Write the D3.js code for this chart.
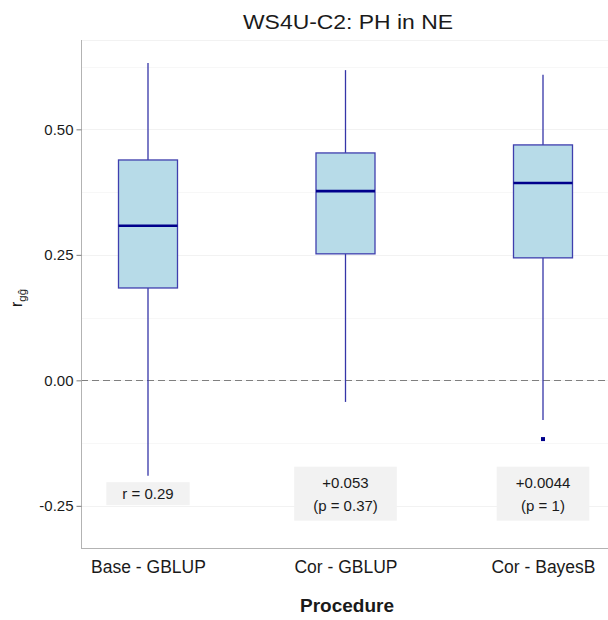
<!DOCTYPE html>
<html>
<head>
<meta charset="utf-8">
<script src="https://cdn.jsdelivr.net/npm/d3@7"></script>
<style>
  html, body { margin: 0; padding: 0; background: #fff; }
  svg { display: block; font-family: "Liberation Sans", Arial, sans-serif; }
</style>
</head>
<body>
<svg id="chart" width="608" height="620"></svg>
<script>
// Box-plot summaries of r(g, ĝ) per procedure
const procedures = ["Base - GBLUP", "Cor - GBLUP", "Cor - BayesB"];
const whiskerLow  = [-0.190, -0.043, -0.079];
const q1          = [ 0.184,  0.252,  0.244];
const medians     = [ 0.308,  0.377,  0.393];
const q3          = [ 0.439,  0.453,  0.469];
const whiskerHigh = [ 0.632,  0.618,  0.609];
const outliers    = [[], [], [-0.117]];

// Annotation text under each box
const annotations = [["r = 0.29"], ["+0.053", "(p = 0.37)"], ["+0.0044", "(p = 1)"]];
const annotationY = -0.226;

const majorTicks = [-0.25, 0.00, 0.25, 0.50];
const minorTicks = [-0.125, 0.125, 0.375, 0.625];
const tickLabels = ["-0.25", "0.00", "0.25", "0.50"];

const svg = d3.select("#chart");
const panel = { left: 81, right: 608, top: 40, bottom: 548 };

const x = d3.scalePoint().domain(procedures).range([148, 543]);
const y = d3.scaleLinear().domain([-0.334, 0.678]).range([panel.bottom, panel.top]);
const boxW = 59;

// Grid lines
const grid = svg.append("g");
grid.selectAll("line.minor").data(minorTicks).join("line")
  .attr("x1", panel.left).attr("x2", panel.right)
  .attr("y1", d => Math.round(y(d)) + 0.5).attr("y2", d => Math.round(y(d)) + 0.5)
  .attr("stroke", "#f7f7f7").attr("stroke-width", 1);
grid.selectAll("line.major").data(majorTicks).join("line")
  .attr("x1", panel.left).attr("x2", panel.right)
  .attr("y1", d => Math.round(y(d)) + 0.5).attr("y2", d => Math.round(y(d)) + 0.5)
  .attr("stroke", "#f2f2f2").attr("stroke-width", 1);
grid.append("line")
  .attr("x1", panel.left).attr("x2", panel.right)
  .attr("y1", panel.top + 0.5).attr("y2", panel.top + 0.5)
  .attr("stroke", "#f2f2f2");

// Reference line at zero
svg.append("line")
  .attr("x1", panel.left).attr("x2", panel.right)
  .attr("y1", Math.round(y(0)) + 0.5).attr("y2", Math.round(y(0)) + 0.5)
  .attr("stroke", "#7f7f7f").attr("stroke-width", 1.1)
  .attr("stroke-dasharray", "7,4");

// Axes
const yAxis = d3.axisLeft(y).tickValues(majorTicks)
  .tickFormat((d, i) => tickLabels[i]).tickSize(5).tickPadding(3);
const gy = svg.append("g").attr("transform", `translate(${panel.left + 0.5},0)`).call(yAxis);
gy.select(".domain").attr("d", `M0,${panel.top}V${panel.bottom}`).attr("stroke", "#b3b3b3");
gy.selectAll(".tick line").attr("stroke", "#7f7f7f");
gy.selectAll(".tick text").attr("font-size", 15).attr("fill", "#1a1a1a")
  .attr("font-family", "Liberation Sans, Arial, sans-serif");

const xAxis = d3.axisBottom(x).tickSize(0).tickPadding(12);
const gx = svg.append("g").attr("transform", `translate(0,${panel.bottom + 0.5})`).call(xAxis);
gx.select(".domain").attr("d", `M${panel.left},0H${panel.right}`).attr("stroke", "#b3b3b3");
gx.selectAll(".tick text").attr("font-size", 17.5).attr("fill", "#1a1a1a")
  .attr("font-family", "Liberation Sans, Arial, sans-serif");

// Boxes
const boxes = svg.append("g");
procedures.forEach((p, i) => {
  const cx = x(p);
  const g = boxes.append("g");
  g.append("line")
    .attr("x1", cx).attr("x2", cx)
    .attr("y1", y(whiskerHigh[i])).attr("y2", y(q3[i]))
    .attr("stroke", "#3535a8").attr("stroke-width", 1.3);
  g.append("line")
    .attr("x1", cx).attr("x2", cx)
    .attr("y1", y(q1[i])).attr("y2", y(whiskerLow[i]))
    .attr("stroke", "#3535a8").attr("stroke-width", 1.3);
  g.append("rect")
    .attr("x", cx - boxW / 2).attr("y", y(q3[i]))
    .attr("width", boxW).attr("height", y(q1[i]) - y(q3[i]))
    .attr("fill", "#b7dbe8").attr("stroke", "#3f3fae").attr("stroke-width", 1.3);
  g.append("line")
    .attr("x1", cx - boxW / 2).attr("x2", cx + boxW / 2)
    .attr("y1", y(medians[i])).attr("y2", y(medians[i]))
    .attr("stroke", "#00008b").attr("stroke-width", 2.6);
  outliers[i].forEach(v => {
    g.append("rect")
      .attr("x", cx - 2).attr("y", y(v) - 2)
      .attr("width", 4).attr("height", 4)
      .attr("fill", "#00008b");
  });
});

// Annotation labels
const ann = svg.append("g").attr("font-size", 15).attr("fill", "#1a1a1a");
procedures.forEach((p, i) => {
  const lines = annotations[i];
  const cx = x(p);
  const cy = y(annotationY);
  const lh = 23;
  const tmp = ann.append("g");
  lines.forEach((t, j) => {
    tmp.append("text")
      .attr("x", cx)
      .attr("y", cy + (j - (lines.length - 1) / 2) * lh)
      .attr("dy", "0.36em")
      .attr("text-anchor", "middle")
      .text(t);
  });
  const bb = tmp.node().getBBox();
  const padX = lines.length > 1 ? 19 : 16, padY = lines.length > 1 ? 7 : 3;
  tmp.insert("rect", ":first-child")
    .attr("x", bb.x - padX).attr("y", bb.y - padY)
    .attr("width", bb.width + 2 * padX).attr("height", bb.height + 2 * padY)
    .attr("fill", "#f2f2f2");
});

// Title
svg.append("text")
  .attr("x", 348).attr("y", 29)
  .attr("text-anchor", "middle")
  .attr("font-size", 21).attr("fill", "#1a1a1a")
  .attr("textLength", 210).attr("lengthAdjust", "spacingAndGlyphs")
  .text("WS4U-C2: PH in NE");

// X axis title
svg.append("text")
  .attr("x", 347).attr("y", 612)
  .attr("text-anchor", "middle")
  .attr("font-size", 19).attr("font-weight", "bold").attr("fill", "#1a1a1a")
  .text("Procedure");

// Y axis title: r with subscript g ĝ
const yl = svg.append("text")
  .attr("transform", "translate(22,298) rotate(-90)")
  .attr("text-anchor", "middle")
  .attr("font-size", 16).attr("fill", "#1a1a1a");
yl.append("tspan").text("r");
yl.append("tspan").attr("font-size", 11.5).attr("dy", 4).text("gĝ");
</script>
</body>
</html>
